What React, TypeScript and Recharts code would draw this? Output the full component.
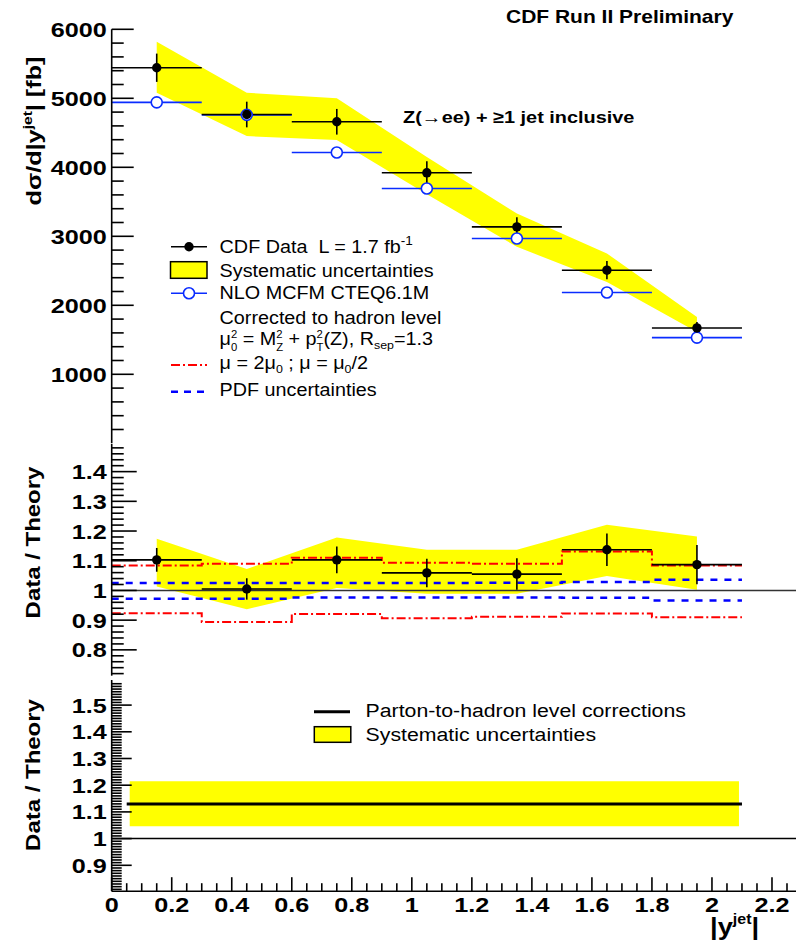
import React from 'react';
import { ComposedChart, Area, Line, Scatter, ErrorBar, XAxis, YAxis, ReferenceLine } from 'recharts';

const FONT = "'Liberation Sans', Arial, Helvetica, sans-serif";

// |y_jet| binning
const binCenters = [0.15, 0.45, 0.75, 1.05, 1.35, 1.65, 1.95];
const binEdges = [0, 0.3, 0.6, 0.9, 1.2, 1.5, 1.8, 2.1];
const binHalfWidth = 0.15;

// upper panel: dsigma/d|y_jet| [fb]
const cdfXsec = [5443, 4765, 4660, 3920, 3137, 2509, 1672];
const cdfStatErr = [205, 186, 186, 169, 140, 133, 85];
const nloXsec = [4941, 4760, 4215, 3693, 2968, 2185, 1532];
const sysXsecLow = [5080, 4452, 4394, 3611, 2847, 2339, 1614];
const sysXsecHigh = [5820, 5080, 4999, 4148, 3331, 2751, 1831];

// middle panel: data / theory
const ratio = [1.103, 1.005, 1.103, 1.059, 1.055, 1.137, 1.087];
const ratioErr = [0.04, 0.036, 0.045, 0.048, 0.053, 0.055, 0.066];
const ratioSysLow = [1.013, 0.937, 1.008, 0.989, 0.989, 1.049, 1.002];
const ratioSysHigh = [1.174, 1.072, 1.178, 1.137, 1.137, 1.221, 1.182];
const scaleHalf = [1.084, 1.09, 1.11, 1.093, 1.09, 1.131, 1.084];
const scaleDouble = [0.923, 0.894, 0.921, 0.906, 0.911, 0.922, 0.91];
const pdfUp = [1.025, 1.025, 1.025, 1.025, 1.026, 1.028, 1.036];
const pdfDown = [0.972, 0.972, 0.976, 0.976, 0.976, 0.975, 0.966];

// lower panel: parton-to-hadron corrections
const corrX = [0.05, 2.1];
const corrValue = [1.13, 1.13];
const corrBandX = [0.06, 2.09];
const corrBandLow = [1.046, 1.046];
const corrBandHigh = [1.215, 1.215];

const steps = (from: number, to: number, step: number) => {
  const out: number[] = [];
  const n = Math.round((to - from) / step);
  for (let i = 0; i <= n; i++) out.push(Math.round((from + i * step) * 1e6) / 1e6);
  return out;
};

const xTicks = steps(0, 2.3, 0.05);
const xMajor = steps(0, 2.2, 0.2);
const xsecTicks = steps(200, 6000, 200);
const xsecMajor = steps(1000, 6000, 1000);
const ratioTicks = steps(0.72, 1.48, 0.02);
const ratioMajor = steps(0.8, 1.4, 0.1);
const corrTicks = steps(0.81, 1.58, 0.01);
const corrMajor = steps(0.9, 1.5, 0.1);

const fmt = (v: number) => (Number.isInteger(v) ? String(v) : v.toFixed(1));
const isIn = (list: number[], v: number) => list.some((m) => Math.abs(m - v) < 1e-6);

// tables for the library
const xsecBandRows = binCenters.map((x, i) => ({ x, band: [sysXsecLow[i], sysXsecHigh[i]] }));
const cdfPoints = binCenters.map((x, i) => ({ x, y: cdfXsec[i], ex: binHalfWidth, ey: cdfStatErr[i] }));
const nloPoints = binCenters.map((x, i) => ({ x, y: nloXsec[i], ex: binHalfWidth }));
const ratioPoints = binCenters.map((x, i) => ({ x, y: ratio[i], ex: binHalfWidth, ey: ratioErr[i] }));
const ratioRows = [
  ...binEdges.map((x, i) => {
    const b = Math.min(i, binCenters.length - 1);
    return { x, band: [null, null], up: scaleHalf[b], down: scaleDouble[b], pdfUp: pdfUp[b], pdfDown: pdfDown[b] };
  }),
  ...binCenters.map((x, i) => ({ x, band: [ratioSysLow[i], ratioSysHigh[i]] })),
].sort((a, b) => a.x - b.x);
const corrRows = [
  ...corrX.map((x, i) => ({ x, band: [null, null], corr: corrValue[i] })),
  ...corrBandX.map((x, i) => ({ x, band: [corrBandLow[i], corrBandHigh[i]] })),
].sort((a, b) => a.x - b.x);

const AXIS = { stroke: '#000', strokeWidth: 1.6 };
const TICK_W = 1.6;

const yTick = (majors: number[], majorLen: number, minorLen: number) => (p: any) => {
  const v = p.payload.value;
  const major = isIn(majors, v);
  return (
    <g>
      <line x1={p.x} y1={p.y} x2={p.x + (major ? majorLen : minorLen)} y2={p.y} stroke="#000" strokeWidth={TICK_W} />
      {major && (
        <text transform={`translate(${p.x - 5},${p.y + 7.5}) scale(1.2,1)`} textAnchor="end" fontSize={21}
          fontWeight="bold" fontFamily={FONT} fill="#000">{fmt(v)}</text>
      )}
    </g>
  );
};

const xTick = (labels: boolean, majorLen: number, minorLen: number) => (p: any) => {
  const v = p.payload.value;
  const major = isIn(xMajor, v);
  return (
    <g>
      <line x1={p.x} y1={p.y} x2={p.x} y2={p.y - (major ? majorLen : minorLen)} stroke="#000" strokeWidth={TICK_W} />
      {labels && major && (
        <text transform={`translate(${p.x},${p.y + 21}) scale(1.2,1)`} textAnchor="middle" fontSize={21}
          fontWeight="bold" fontFamily={FONT} fill="#000">{fmt(v)}</text>
      )}
    </g>
  );
};

const dot = (p: any) => <circle cx={p.cx} cy={p.cy} r={4.7} fill="#000" />;
const openCircle = (p: any) => <circle cx={p.cx} cy={p.cy} r={5.5} fill="#fff" stroke="#0a2cff" strokeWidth={1.6} />;

const frameTop = (
  <XAxis xAxisId="frame" orientation="top" type="number" domain={[0, 2.3]} allowDataOverflow height={0}
    tick={false} tickLine={false} axisLine={AXIS} />
);

// stacked superscript / subscript pair inside a legend line
const SupSub = ({ sup, sub, w }: { sup: string; sub: string; w: number }) => (
  <>
    <tspan fontSize={10} dy={-7}>{sup}</tspan>
    <tspan fontSize={10} dx={-w} dy={13}>{sub}</tspan>
  </>
);

export default function App() {
  return (
    <div style={{ position: 'absolute', left: 0, top: 0, width: 796, height: 943, overflow: 'hidden', background: '#fff' }}>
      {/* cross section */}
      <div style={{ position: 'absolute', left: 0, top: 0 }}>
        <ComposedChart width={802} height={446.3} data={xsecBandRows} margin={{ top: 29.3, right: 0, bottom: 3, left: 0 }}>
          <XAxis dataKey="x" type="number" domain={[0, 2.3]} allowDataOverflow ticks={xTicks} interval={0} height={0}
            tickSize={0} tickMargin={0} tickLine={false} axisLine={AXIS} tick={xTick(false, 12, 6)} />
          {frameTop}
          <YAxis type="number" domain={[0, 6000]} allowDataOverflow ticks={xsecTicks} interval={0} width={111.7}
            tickSize={0} tickMargin={0} tickLine={false} axisLine={AXIS} tick={yTick(xsecMajor, 22, 12)} />
          <Area dataKey="band" type="linear" fill="#ffff00" fillOpacity={1} stroke="none" isAnimationActive={false} />
          <Scatter data={nloPoints} dataKey="y" shape={openCircle} isAnimationActive={false}>
            <ErrorBar dataKey="ex" direction="x" width={0} stroke="#0a2cff" strokeWidth={1.6} />
          </Scatter>
          <Scatter data={cdfPoints} dataKey="y" shape={dot} isAnimationActive={false}>
            <ErrorBar dataKey="ex" direction="x" width={0} stroke="#000" strokeWidth={1.6} />
            <ErrorBar dataKey="ey" direction="y" width={0} stroke="#000" strokeWidth={1.6} />
          </Scatter>
        </ComposedChart>
      </div>

      {/* data / theory */}
      <div style={{ position: 'absolute', left: 0, top: 439.3 }}>
        <ComposedChart width={802} height={241.7} data={ratioRows} margin={{ top: 5, right: 0, bottom: 5, left: 0 }}>
          <XAxis dataKey="x" type="number" domain={[0, 2.3]} allowDataOverflow ticks={xTicks} interval={0} height={0}
            tickSize={0} tickMargin={0} tickLine={false} axisLine={AXIS} tick={xTick(false, 12, 6)} />
          {frameTop}
          <YAxis type="number" domain={[0.713, 1.493]} allowDataOverflow ticks={ratioTicks} interval={0} width={111.7}
            tickSize={0} tickMargin={0} tickLine={false} axisLine={AXIS} tick={yTick(ratioMajor, 25, 12)} />
          <Area dataKey="band" type="linear" connectNulls fill="#ffff00" fillOpacity={1} stroke="none" isAnimationActive={false} />
          <ReferenceLine y={1} stroke="#333" strokeWidth={1.5} />
          <Line dataKey="pdfUp" type="stepAfter" connectNulls stroke="#0000ff" strokeWidth={2.5} strokeDasharray="7 7"
            dot={false} activeDot={false} isAnimationActive={false} />
          <Line dataKey="pdfDown" type="stepAfter" connectNulls stroke="#0000ff" strokeWidth={2.5} strokeDasharray="7 7"
            dot={false} activeDot={false} isAnimationActive={false} />
          <Line dataKey="up" type="stepAfter" connectNulls stroke="#ff0000" strokeWidth={2} strokeDasharray="9 3 2 3"
            dot={false} activeDot={false} isAnimationActive={false} />
          <Line dataKey="down" type="stepAfter" connectNulls stroke="#ff0000" strokeWidth={2} strokeDasharray="9 3 2 3"
            dot={false} activeDot={false} isAnimationActive={false} />
          <Scatter data={ratioPoints} dataKey="y" shape={dot} isAnimationActive={false}>
            <ErrorBar dataKey="ex" direction="x" width={0} stroke="#000" strokeWidth={1.6} />
            <ErrorBar dataKey="ey" direction="y" width={0} stroke="#000" strokeWidth={1.6} />
          </Scatter>
        </ComposedChart>
      </div>

      {/* corrections */}
      <div style={{ position: 'absolute', left: 0, top: 674.5 }}>
        <ComposedChart width={802} height={268.5} data={corrRows} margin={{ top: 5, right: 0, bottom: 0, left: 0 }}>
          <XAxis dataKey="x" type="number" domain={[0, 2.3]} allowDataOverflow ticks={xTicks} interval={0} height={52.3}
            tickSize={0} tickMargin={0} tickLine={false} axisLine={AXIS} tick={xTick(true, 14, 8)} />
          {frameTop}
          <YAxis type="number" domain={[0.803, 1.594]} allowDataOverflow ticks={corrTicks} interval={0} width={111.7}
            tickSize={0} tickMargin={0} tickLine={false} axisLine={AXIS} tick={yTick(corrMajor, 20, 10)} />
          <Area dataKey="band" type="linear" connectNulls fill="#ffff00" fillOpacity={1} stroke="none" isAnimationActive={false} />
          <ReferenceLine y={1} stroke="#000" strokeWidth={1.5} />
          <Line dataKey="corr" type="linear" connectNulls stroke="#000" strokeWidth={3} dot={false} activeDot={false}
            isAnimationActive={false} />
        </ComposedChart>
      </div>

      {/* titles and legends */}
      <svg width={796} height={943} style={{ position: 'absolute', left: 0, top: 0, pointerEvents: 'none' }}
        fontFamily={FONT} fill="#000">
        <text transform="translate(506,22.7) scale(1.2,1)" fontSize={17.5} fontWeight="bold">CDF Run II Preliminary</text>
        <text transform="translate(403,123) scale(1.17,1)" fontSize={17} fontWeight="bold">Z(→ee) + ≥1 jet inclusive</text>

        <text transform="translate(40.5,131) rotate(-90) scale(1.2,1)" fontSize={21} fontWeight="bold" textAnchor="middle">
          dσ/d|y<tspan fontSize={13} dy={-9}>jet</tspan><tspan dy={9}>| [fb]</tspan>
        </text>
        <text transform="translate(39.5,542.5) rotate(-90) scale(1.17,1)" fontSize={20.5} fontWeight="bold" textAnchor="middle">
          Data / Theory
        </text>
        <text transform="translate(39.5,775) rotate(-90) scale(1.17,1)" fontSize={20.5} fontWeight="bold" textAnchor="middle">
          Data / Theory
        </text>
        <text transform="translate(710,935) scale(1.14,1)" fontSize={24} fontWeight="bold">
          |y<tspan fontSize={14} dy={-11}>jet</tspan><tspan dy={11}>|</tspan>
        </text>

        {/* upper legend */}
        <line x1={171} x2={207} y1={246.7} y2={246.7} stroke="#000" strokeWidth={1.5} />
        <circle cx={189} cy={246.7} r={4.7} fill="#000" />
        <rect x={170.5} y={261.7} width={36.5} height={16.6} fill="#ffff00" stroke="#000" strokeWidth={1.5} />
        <line x1={171} x2={207} y1={293.3} y2={293.3} stroke="#0a2cff" strokeWidth={1.5} />
        <circle cx={189} cy={293.3} r={5.5} fill="#fff" stroke="#0a2cff" strokeWidth={1.6} />
        <line x1={171} x2={207} y1={365} y2={365} stroke="#ff0000" strokeWidth={2} strokeDasharray="9 3 2 3" />
        <line x1={171} x2={207} y1={391.7} y2={391.7} stroke="#0000ff" strokeWidth={2.5} strokeDasharray="7 6" />
        <g fontSize={17.5}>
          <text transform="translate(219.6,252.7) scale(1.13,1)">
            CDF Data{'\u00a0\u00a0'}L = 1.7 fb<tspan fontSize={12} dy={-8}>-1</tspan>
          </text>
          <text transform="translate(219.6,276.7) scale(1.13,1)">Systematic uncertainties</text>
          <text transform="translate(219.6,299.3) scale(1.13,1)">NLO MCFM CTEQ6.1M</text>
          <text transform="translate(219.6,324) scale(1.13,1)">Corrected to hadron level</text>
          <text transform="translate(219.6,345) scale(1.13,1)">
            μ<SupSub sup="2" sub="0" w={5.6} />
            <tspan dy={-6}> = M</tspan><SupSub sup="2" sub="Z" w={5.6} />
            <tspan dy={-6}> + p</tspan><SupSub sup="2" sub="T" w={5.6} />
            <tspan dy={-6}>(Z), R</tspan><tspan fontSize={11} dy={4}>sep</tspan><tspan dy={-4}>=1.3</tspan>
          </text>
          <text transform="translate(219.6,369) scale(1.13,1)">
            μ = 2μ<tspan fontSize={11} dy={4}>0</tspan><tspan dy={-4}> ; μ = μ</tspan>
            <tspan fontSize={11} dy={4}>0</tspan><tspan dy={-4}>/2</tspan>
          </text>
          <text transform="translate(219.6,396) scale(1.13,1)">PDF uncertainties</text>
        </g>

        {/* lower legend */}
        <line x1={314} x2={350} y1={711.7} y2={711.7} stroke="#000" strokeWidth={3} />
        <rect x={314.3} y={726.7} width={36.5} height={15.6} fill="#ffff00" stroke="#000" strokeWidth={1.5} />
        <g fontSize={19}>
          <text transform="translate(365.6,716.7) scale(1.12,1)">Parton-to-hadron level corrections</text>
          <text transform="translate(365.6,740.7) scale(1.12,1)">Systematic uncertainties</text>
        </g>
      </svg>
    </div>
  );
}
